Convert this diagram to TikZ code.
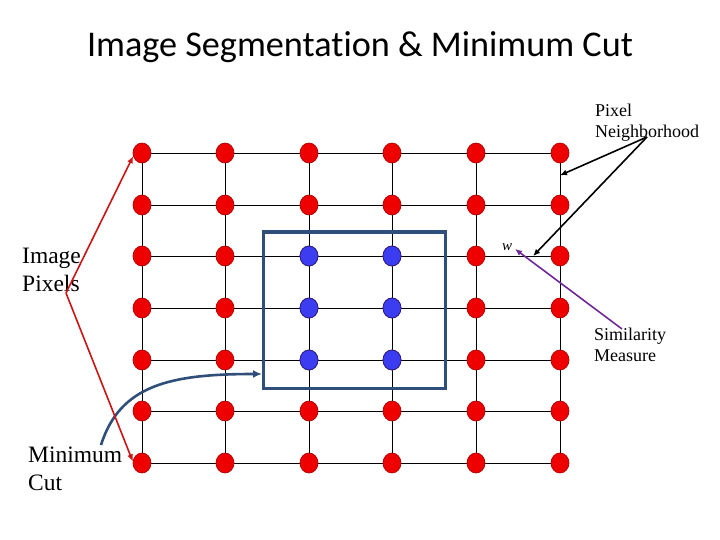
\documentclass[tikz,border=0pt]{standalone}
\usepackage{fontspec}
\setmainfont{Liberation Serif}
\newfontfamily\titlefont[Ligatures=NoCommon]{Carlito}
\usetikzlibrary{arrows.meta}
\usetikzlibrary{calc}
\usetikzlibrary{shapes.geometric}
\usetikzlibrary{backgrounds}
\tikzset{>=latex}
\definecolor{pixred}{RGB}{238,0,0}
\definecolor{pixredline}{RGB}{170,0,0}
\definecolor{pixblue}{RGB}{60,60,240}
\definecolor{pixblueline}{RGB}{30,30,140}
\definecolor{cutblue}{RGB}{47,78,122}
\definecolor{arrowred}{RGB}{205,20,20}
\definecolor{simpurple}{RGB}{112,40,150}
\tikzstyle{pixel}=[ellipse,minimum width=18pt,minimum height=20pt,inner sep=0pt,line width=0.7pt]
\tikzstyle{redpix}=[pixel,fill=pixred,draw=pixredline]
\tikzstyle{bluepix}=[pixel,fill=pixblue,draw=pixblueline]
\tikzstyle{gridline}=[draw=black,line width=0.9pt]
\tikzstyle{cutline}=[draw=cutblue,line width=3pt]
\tikzstyle{labeltext}=[anchor=base west,align=left,inner sep=0pt]
\tikzstyle{pointer}=[line width=1.6pt,-{Latex[length=7pt,width=6pt]}]

\begin{document}
\begin{tikzpicture}[x=1pt,y=-1pt]
  \useasboundingbox (0,0) rectangle (720,540);
  \node[font=\titlefont\fontsize{36.2}{40}\selectfont] (title) at (360,47) {Image Segmentation \& Minimum Cut};

  % pixels
  \foreach \c/\x in {1/142,2/225,3/309,4/392,5/476,6/560}{
    \foreach \r/\y in {1/153,2/205,3/256,4/308,5/360,6/411,7/463}{
      \node[redpix] (p-\c-\r) at (\x,\y) {};
    }
  }
  \foreach \c in {3,4}{
    \foreach \r in {3,4,5}{
      \node[bluepix] at (p-\c-\r) {};
    }
  }
  \begin{scope}[on background layer]
    \foreach \r in {1,...,7}
      \draw[gridline] (p-1-\r.center) -- (p-6-\r.center);
    \foreach \c in {1,...,6}
      \draw[gridline] (p-\c-1.center) -- (p-\c-7.center);
  \end{scope}

  % the cut
  \draw[cutline] (263,232) rectangle (445,388);
  \coordinate (cutbox) at (262,374);
  \coordinate (cutstart) at (101,445);
  \draw[cutline,line width=2.6pt,-{Latex[length=9pt,width=8pt]}] (cutstart)
    .. controls (120,385) and (170,374) .. (cutbox);

  % labels
  \node[labeltext,font=\fontsize{23.5}{27.5}\selectfont] (pixlab) at (22,291) {Image\\Pixels};
  \node[labeltext,font=\fontsize{23.5}{27.5}\selectfont] (cutlab) at (28,490) {Minimum\\Cut};
  \node[labeltext,font=\fontsize{18}{20.5}\selectfont] (nblab) at (595,137.5) {Pixel\\Neighborhood};
  \node[labeltext,font=\fontsize{18}{20.5}\selectfont] (simlab) at (594,361) {Similarity\\Measure};
  \node[font=\itshape\fontsize{15}{16}\selectfont,inner sep=0pt,anchor=base] (w) at (507,251) {w};

  \coordinate (pixfrom) at (66,293);
  \coordinate (nbfrom) at (647,137);
  \coordinate (simfrom) at (622,329);
  \coordinate (wedge) at (515,249);
  \draw[arrowred,pointer] (pixfrom) -- (p-1-1.200);
  \draw[arrowred,pointer] (pixfrom) -- (p-1-7.170);
  \draw[black,pointer] (nbfrom) -- ($(p-6-1)!0.43!(p-6-2)$);
  \draw[black,pointer] (nbfrom) -- ($(p-5-3)!0.68!(p-6-3)$);
  \draw[simpurple,pointer] (simfrom) -- (wedge);
\end{tikzpicture}
\end{document}
